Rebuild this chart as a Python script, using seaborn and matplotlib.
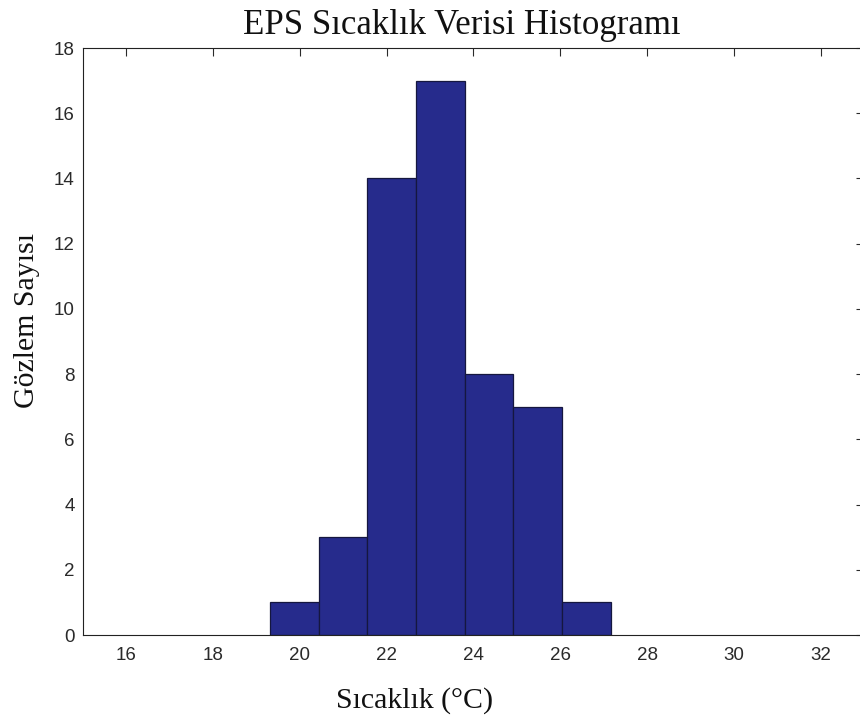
import numpy as np
import pandas as pd
import matplotlib
matplotlib.use("Agg")
import matplotlib.pyplot as plt
import seaborn as sns

# Data
bin_edges = [19.31, 20.43, 21.55, 22.68, 23.80, 24.92, 26.05, 27.17]
counts = [1, 3, 14, 17, 8, 7, 1]
x_ticks = [16, 18, 20, 22, 24, 26, 28, 30, 32]
y_ticks = [0, 2, 4, 6, 8, 10, 12, 14, 16, 18]

title = "EPS Sıcaklık Verisi Histogramı"
xlabel = "Sıcaklık (°C)"
ylabel = "Gözlem Sayısı"

sns.set_style("white")
plt.rcParams['font.family'] = ['Liberation Sans Narrow', 'Liberation Sans', 'DejaVu Sans']

centers = [(a + b) / 2 for a, b in zip(bin_edges[:-1], bin_edges[1:])]
df = pd.DataFrame({"temp": centers, "n": counts})

W, H = 860, 720
L, R, T, B = 83, 864, 48, 635
fig = plt.figure(figsize=(8.6, 7.2), dpi=100)
ax = fig.add_axes([L / W, 1 - B / H, (R - L) / W, (B - T) / H])

sns.histplot(data=df, x="temp", weights="n", bins=bin_edges, ax=ax,
             color="#262b8c", alpha=1.0, edgecolor="#15173f", linewidth=0.9)

ax.set_xlim(15, 33)
ax.set_ylim(0, 18)
ax.set_xticks(x_ticks)
ax.set_yticks(y_ticks)
ax.tick_params(direction="in", length=6, width=0.8, top=True, right=True,
               labelsize=13.5, colors="#2a2a2a", pad=6)
ax.tick_params(axis="x", pad=9)
for s in ax.spines.values():
    s.set_color("#222222")
    s.set_linewidth(0.8)

serif = ['Liberation Serif', 'DejaVu Serif']
fig.text(462 / W, 1 - 26 / H, title, family=serif, fontsize=25,
         ha="center", va="center", color="#111111")
ax.set_xlabel(xlabel, family=serif, fontsize=21.5, color="#111111")
ax.set_ylabel(ylabel, family=serif, fontsize=21.5, color="#111111")
ax.xaxis.set_label_coords((415 - L) / (R - L), -(701 - B) / (B - T))
ax.xaxis.label.set_va("center")
ax.yaxis.set_label_coords((27 - L) / (R - L), (B - 320) / (B - T))
ax.yaxis.label.set_va("center")
ax.yaxis.label.set_ha("center")

fig.savefig("out.png", dpi=100)
